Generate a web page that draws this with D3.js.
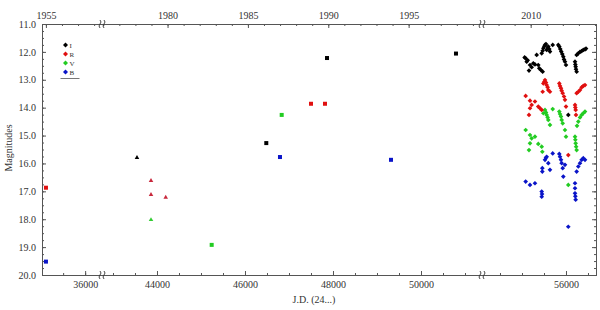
<!DOCTYPE html>
<head>
  <meta charset="utf-8">
  <title>Light curve</title>
  <style>
    body { margin: 0; background: #fff; }
    .tick text { font-family: "Liberation Serif", serif; font-size: 10px; fill: #333; }
    .tick line { stroke: #555; }
    .frame { fill: none; stroke: #555; stroke-width: 1px; }
    .brk { fill: none; stroke: #333; stroke-width: 0.9px; }
    .lbl { font-family: "Liberation Serif", serif; font-size: 10px; fill: #333; }
    .leg { font-family: "Liberation Serif", serif; font-size: 7px; fill: #333; }
  </style>
</head>
<body>
  <div id="chart"></div>
  <script src="https://cdn.jsdelivr.net/npm/d3@7"></script>
  <script>
    // historic points (JD - 2400000, magnitude, band)
    var squareJD   = [35110, 35110, 45243, 46484, 46795, 46834, 47500, 47818, 47864, 49318, 50795];
    var squareMag  = [16.87, 19.52, 18.92, 15.27, 15.77, 14.26, 13.86, 13.86, 12.22, 15.87, 12.06];
    var squareBand = ["R", "B", "V", "I", "B", "V", "R", "R", "I", "B", "I"];

    var triJD   = [43545, 43864, 43864, 43864, 44198];
    var triMag  = [15.79, 16.62, 17.12, 18.02, 17.22];
    var triBand = ["I", "R", "R", "V", "R"];

    // recent monitoring, one pair of arrays per band
    var iJD  = [55060, 55084, 55107, 55130, 55159, 55182, 55220, 55257, 55295,
                55334, 55370, 55393, 55430, 55470, 55448, 55470, 55486, 55508, 55523, 55545, 55561, 55583, 55598, 55620, 55636, 55698,
                55825, 55848, 55870, 55893, 55916, 55939, 55955, 55977, 56000, 56052,
                56205, 56212, 56220, 56227, 56242, 56242, 56280, 56318, 56356, 56393, 56432, 56455];
    var iMag = [12.20, 12.23, 12.35, 12.30, 12.67, 12.47, 12.55, 12.41, 12.45,
                12.11, 12.47, 12.59, 12.65, 12.71, 12.05, 11.96, 11.87, 11.80, 11.75, 11.72, 11.93, 11.86, 11.81, 11.90, 11.99, 11.75,
                11.75, 11.81, 11.90, 11.99, 12.08, 12.17, 12.27, 12.35, 12.47, 14.26,
                12.35, 12.45, 12.53, 12.62, 12.71, 12.11, 12.05, 12.00, 11.97, 11.93, 11.91, 11.88];

    var rJD  = [55084, 55182, 55295, 55182, 55159, 55220,
                55370, 55409, 55448, 55470, 55486, 55508, 55523, 55545, 55561, 55583, 55598, 55636,
                55848, 55864, 55886, 55902, 55925, 55955, 55977, 56000, 56052,
                56205, 56212, 56220, 56227, 56242, 56280, 56318, 56356, 56393, 56432];
    var rMag = [13.58, 13.75, 13.78, 14.02, 14.26, 13.90,
                13.96, 14.02, 14.08, 13.43, 13.13, 13.07, 13.01, 13.10, 13.19, 13.27, 13.37, 13.43,
                13.13, 13.22, 13.30, 13.39, 13.48, 13.60, 13.72, 13.96, 15.70,
                13.90, 13.99, 14.08, 14.26, 13.48, 13.43, 13.37, 13.27, 13.22, 13.19];

    var vJD  = [55084, 55182, 55295, 55182, 55159, 55220,
                55370, 55448, 55462, 55486, 55523, 55545, 55561, 55583, 55598, 55636, 55698,
                55848, 55864, 55886, 55902, 55925, 55977, 56000, 56052,
                56205, 56212, 56220, 56230, 56242, 56250, 56280, 56318, 56356, 56393, 56432];
    var vMag = [14.80, 14.98, 15.04, 15.28, 15.52, 15.10,
                15.30, 15.40, 15.58, 14.20, 14.08, 14.17, 14.26, 14.35, 14.44, 14.62, 14.05,
                14.14, 14.23, 14.32, 14.44, 14.56, 14.80, 15.04, 16.77,
                15.04, 15.15, 15.28, 15.40, 15.52, 14.65, 14.50, 14.35, 14.26, 14.20, 14.14];

    var bJD  = [55084, 55182, 55295, 55448, 55448, 55455,
                55462, 55462, 55523, 55545, 55561, 55598, 55636, 55698,
                55848, 55864, 55886, 55902, 55925, 55939, 55977, 56052,
                56205, 56205, 56205, 56212, 56220, 56242, 56280, 56318, 56356, 56393, 56432];
    var bMag = [16.65, 16.77, 16.71, 17.01, 17.19, 17.10,
                16.17, 16.29, 15.87, 15.80, 15.76, 15.99, 16.23, 15.64,
                15.66, 15.76, 15.87, 15.99, 16.17, 16.47, 16.05, 18.27,
                16.71, 16.89, 17.07, 17.18, 17.30, 16.29, 16.11, 15.99, 15.87, 15.81, 15.87];

    var bands = ["I", "R", "V", "B"];
    var yMajor = [11, 12, 13, 14, 15, 16, 17, 18, 19, 20];
    var jdMajor = [36000, 44000, 46000, 48000, 50000, 56000];
    var yearMajor = [1955, 1980, 1985, 1990, 1995, 2010];

    var W = 600, H = 310;
    var pL = 42, pR = 596, pT = 24, pB = 275;
    var gap1 = 103, gap2 = 483;

    var color = { I: "#000000", R: "#e01010", V: "#22cc22", B: "#0a14c8" };
    var triColor = { I: "#000000", R: "#c8283c", V: "#33cc33", B: "#0a14c8" };

    var svg = d3.select("#chart").append("svg")
        .attr("width", W).attr("height", H);

    // broken x axis: three linear pieces
    var x = d3.scaleLinear()
        .domain([35020, 36406, 42773, 51409, 54114, 56682])
        .range([pL, gap1, gap1, gap2, gap2, pR]);

    var y = d3.scaleLinear().domain([11, 20]).range([pT, pB]);

    function yearToJD(yr) { return 51545 + (yr - 2000) * 365.25; }
    function inDomain(jd) {
      return (jd >= 35020 && jd <= 36406) || (jd >= 42773 && jd <= 51409) || (jd >= 54114 && jd <= 56682);
    }

    var jdMinor = d3.range(35000, 56700, 500).filter(inDomain);
    var yearMinor = d3.range(1954, 2015, 1).map(yearToJD).filter(inDomain);
    var yMinor = d3.range(11, 20.001, 0.25);

    function axisG(tr) {
      return svg.append("g").attr("class", "ax").attr("transform", tr);
    }

    // bottom
    axisG("translate(0," + pB + ")")
      .call(d3.axisBottom(x).tickValues(jdMinor).tickSizeInner(-2).tickSizeOuter(0).tickFormat(""));
    axisG("translate(0," + pB + ")")
      .call(d3.axisBottom(x).tickValues(jdMajor).tickSizeInner(-4).tickSizeOuter(0).tickPadding(6).tickFormat(d3.format("d")));
    // top
    axisG("translate(0," + pT + ")")
      .call(d3.axisTop(x).tickValues(yearMinor).tickSizeInner(-2).tickSizeOuter(0).tickFormat(""));
    axisG("translate(0," + pT + ")")
      .call(d3.axisTop(x).tickValues(yearMajor.map(yearToJD)).tickSizeInner(-4).tickSizeOuter(0).tickPadding(5)
        .tickFormat(function(d, i) { return yearMajor[i]; }));
    // left
    axisG("translate(" + pL + ",0)")
      .call(d3.axisLeft(y).tickValues(yMinor).tickSizeInner(-2).tickSizeOuter(0).tickFormat(""));
    axisG("translate(" + pL + ",0)")
      .call(d3.axisLeft(y).tickValues(yMajor).tickSizeInner(-4).tickSizeOuter(0).tickPadding(6).tickFormat(d3.format(".1f")));
    // right
    axisG("translate(" + pR + ",0)")
      .call(d3.axisRight(y).tickValues(yMinor).tickSizeInner(-2).tickSizeOuter(0).tickFormat(""));
    axisG("translate(" + pR + ",0)")
      .call(d3.axisRight(y).tickValues(yMajor).tickSizeInner(-4).tickSizeOuter(0).tickFormat(""));

    svg.selectAll(".ax .domain").remove();

    svg.append("rect").attr("class", "frame")
      .attr("x", pL + 0.5).attr("y", pT + 0.5)
      .attr("width", pR - pL).attr("height", pB - pT);

    // break marks
    [gap1, gap2].forEach(function(gx) {
      [pT, pB].forEach(function(gy) {
        [-2, 2].forEach(function(dx) {
          var cx = gx + dx;
          svg.append("path").attr("class", "brk")
            .attr("d", "M" + (cx - 1) + "," + (gy - 4) + " q2,2 0,4 q-2,2 0,4");
        });
      });
    });

    // axis titles
    svg.append("text").attr("class", "lbl")
      .attr("transform", "translate(12,148) rotate(-90)")
      .attr("text-anchor", "middle").text("Magnitudes");
    svg.append("text").attr("class", "lbl")
      .attr("x", 314).attr("y", 303).attr("text-anchor", "middle").text("J.D. (24...)");

    var diamond = d3.symbol().type(d3.symbolDiamond2);

    // monitoring points
    var series = { I: [iJD, iMag], R: [rJD, rMag], V: [vJD, vMag], B: [bJD, bMag] };
    bands.slice().reverse().forEach(function(b) {
      var pts = series[b][0].map(function(jd, i) { return [jd, series[b][1][i]]; });
      svg.append("g").selectAll("path").data(pts).enter().append("path")
        .attr("transform", function(d) { return "translate(" + x(d[0]) + "," + y(d[1]) + ")"; })
        .attr("d", diamond.size(14)())
        .attr("fill", color[b]);
    });

    // squares
    svg.append("g").selectAll("rect").data(squareJD).enter().append("rect")
      .attr("x", function(d) { return x(d) - 2; })
      .attr("y", function(d, i) { return y(squareMag[i]) - 2; })
      .attr("width", 4).attr("height", 4)
      .attr("fill", function(d, i) { return color[squareBand[i]]; });

    // triangles
    var tri = d3.symbol().type(d3.symbolTriangle).size(9);
    svg.append("g").selectAll("path").data(triJD).enter().append("path")
      .attr("transform", function(d, i) { return "translate(" + x(d) + "," + y(triMag[i]) + ")"; })
      .attr("d", tri())
      .attr("fill", function(d, i) { return triColor[triBand[i]]; });

    // legend
    var leg = svg.append("g").attr("transform", "translate(65.5,45)");
    bands.forEach(function(b, i) {
      leg.append("path").attr("transform", "translate(0," + (i * 9) + ")")
        .attr("d", diamond.size(16)()).attr("fill", color[b]);
      leg.append("text").attr("class", "leg").attr("x", 4).attr("y", i * 9 + 2.5).text(b);
    });
    leg.append("line").attr("x1", -5).attr("x2", 14).attr("y1", 33.5).attr("y2", 33.5)
      .attr("stroke", "#555").attr("stroke-width", 0.8);
  </script>
</body>
